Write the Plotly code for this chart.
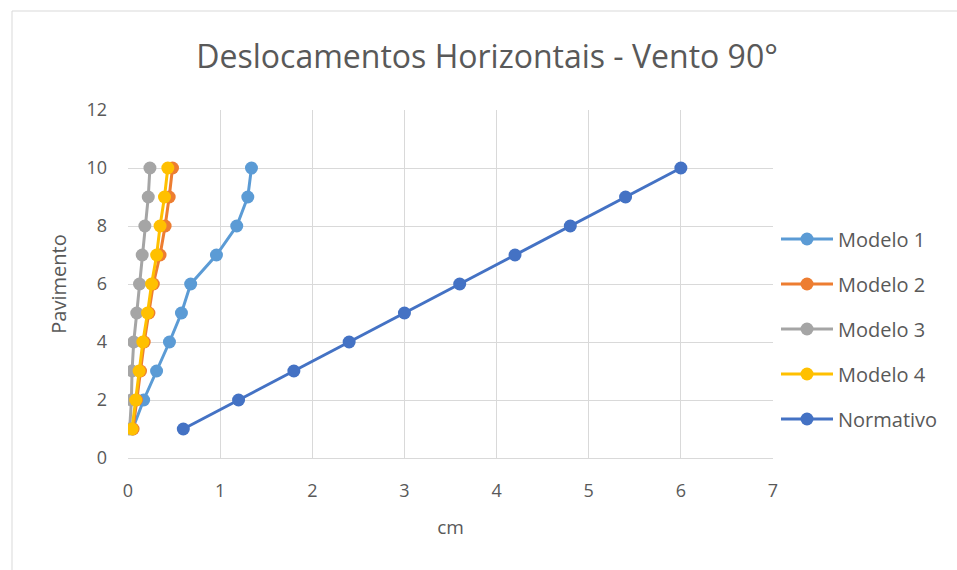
import plotly.graph_objects as go

# Floor (pavimento) index for every series
pavimentos = [1, 2, 3, 4, 5, 6, 7, 8, 9, 10]

# Horizontal displacement (cm) per floor
modelo_1 = [0.05, 0.17, 0.31, 0.45, 0.58, 0.68, 0.96, 1.18, 1.30, 1.34]
modelo_2 = [0.055, 0.092, 0.136, 0.176, 0.227, 0.275, 0.348, 0.403, 0.447, 0.483]
modelo_3 = [0.018, 0.037, 0.044, 0.062, 0.095, 0.125, 0.154, 0.183, 0.22, 0.238]
modelo_4 = [0.044, 0.084, 0.121, 0.161, 0.212, 0.256, 0.311, 0.348, 0.396, 0.432]
normativo = [0.6, 1.2, 1.8, 2.4, 3.0, 3.6, 4.2, 4.8, 5.4, 6.0]

series = [
    ("Modelo 1", modelo_1, "#5B9BD5"),
    ("Modelo 2", modelo_2, "#ED7D31"),
    ("Modelo 3", modelo_3, "#A5A5A5"),
    ("Modelo 4", modelo_4, "#FFC000"),
    ("Normativo", normativo, "#4472C4"),
]

FONT = "Open Sans"
TEXT = "#595959"
GRID = "#D9D9D9"

fig = go.Figure()
for name, xs, color in series:
    fig.add_trace(go.Scatter(
        x=xs, y=pavimentos, name=name, legendgroup=name,
        mode="lines+markers",
        line=dict(color=color, width=3),
        marker=dict(color=color, size=13),
    ))

# Plot area geometry in pixels
W, H = 957, 570
L, R, T, B = 128, 184, 110, 112
pw, ph = W - L - R, H - T - B

def px_x(p):
    return (p - L) / pw

def px_y(p):
    return (H - B - p) / ph

fig.update_layout(
    width=W, height=H,
    margin=dict(l=L, r=R, t=T, b=B),
    paper_bgcolor="white", plot_bgcolor="white",
    font=dict(family=FONT, color=TEXT, size=18),
    title=dict(text="Deslocamentos Horizontais - Vento 90°",
               x=0.509, xanchor="center", y=1 - 57 / H, yanchor="middle",
               font=dict(family=FONT, size=32, color=TEXT)),
    xaxis=dict(range=[0, 7], dtick=1, tick0=0, showgrid=True, gridcolor=GRID,
               gridwidth=1, zeroline=False, showline=True, linecolor=GRID,
               linewidth=1, ticks="", ticklabelstandoff=16,
               tickfont=dict(size=18, color=TEXT),
               title=dict(text="cm", font=dict(size=19, color=TEXT), standoff=20)),
    yaxis=dict(range=[0, 12], dtick=2, tick0=0, showgrid=True, gridcolor=GRID,
               gridwidth=1, zeroline=False, showline=False, ticks="",
               ticklabelstandoff=20,
               tickfont=dict(size=18, color=TEXT),
               title=dict(text="Pavimento", font=dict(size=20, color=TEXT), standoff=14)),
    legend=dict(x=px_x(776), xanchor="left", y=px_y(329), yanchor="middle",
                font=dict(size=20, color=TEXT), tracegroupgap=16,
                itemwidth=52, bgcolor="rgba(0,0,0,0)"),
    showlegend=True,
)

# Chart-area border
fig.add_shape(type="rect", xref="paper", yref="paper",
              x0=px_x(12), x1=px_x(W + 5), y0=px_y(H + 5), y1=px_y(11),
              line=dict(color=GRID, width=1), layer="below")

fig.write_html("out.html")
